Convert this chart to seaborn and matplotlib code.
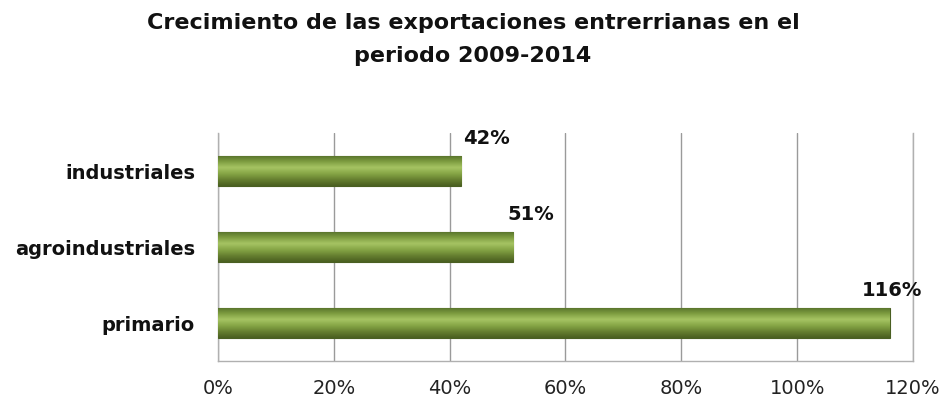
import matplotlib
matplotlib.use("Agg")
import matplotlib.pyplot as plt
import seaborn as sns
import numpy as np
import pandas as pd
from matplotlib.colors import LinearSegmentedColormap
from matplotlib.transforms import offset_copy

categories = ["industriales", "agroindustriales", "primario"]
values = [42, 51, 116]
labels = ["42%", "51%", "116%"]
xticks = [0, 20, 40, 60, 80, 100, 120]
xticklabels = ["0%", "20%", "40%", "60%", "80%", "100%", "120%"]
title = "Crecimiento de las exportaciones entrerrianas en el\nperiodo 2009-2014"

# label nudges (points) relative to bar end, as placed in the original chart
label_dx = [1, -4, -20]

sns.set_theme(style="white")
plt.rcParams['font.family'] = ['DejaVu Sans']

df = pd.DataFrame({"cat": categories, "val": values})

fig = plt.figure(figsize=(9.46, 4.07), dpi=100)
ax = fig.add_axes([0.2304, 0.113, 0.7347, 0.56])

sns.barplot(data=df, x="val", y="cat", ax=ax, color="#7a9a3a", width=0.4,
            edgecolor="#4a5f22", linewidth=0.8, zorder=3)

ax.set_xlim(0, 120)
ax.set_xticks(xticks)
ax.set_xticklabels(xticklabels, fontsize=14, color="#222222")
ax.set_xlabel("")
ax.set_ylabel("")
ax.tick_params(axis="y", labelsize=14, pad=16.5, length=0)
ax.tick_params(axis="x", pad=13, length=0)
for t in ax.get_yticklabels():
    t.set_fontweight("bold")
    t.set_color("#111111")

ax.grid(axis="x", color="#9a9a9a", linewidth=1.0, zorder=0)
ax.set_axisbelow(True)
for s in ["left", "right", "bottom"]:
    ax.spines[s].set_visible(True)
    ax.spines[s].set_color("#b0b0b0")
    ax.spines[s].set_linewidth(1.0)
ax.spines["top"].set_visible(False)

# gradient fill for bars
cmap = LinearSegmentedColormap.from_list("g", ["#55702a", "#7d9c40", "#a6c463", "#86a646", "#667f30", "#4a5f20"])
grad = np.linspace(0, 1, 64).reshape(-1, 1)
ylim = ax.get_ylim()
for p in ax.patches:
    x0, y0 = p.get_x(), p.get_y()
    w, h = p.get_width(), p.get_height()
    im = ax.imshow(grad, cmap=cmap, aspect="auto", extent=[x0, x0 + w, y0 + h, y0],
                   zorder=3.5, interpolation="bicubic")
    im.set_clip_path(p)
ax.set_ylim(ylim)
ax.set_xlim(0, 120)

for p, lab, dx in zip(ax.patches, labels, label_dx):
    x_end = p.get_x() + p.get_width()
    yc = p.get_y()
    tr = offset_copy(ax.transData, fig=fig, x=dx, y=0, units="points")
    ax.text(x_end, yc - 0.1, lab, ha="left", va="bottom", fontsize=14,
            fontweight="bold", color="#111111", zorder=5, transform=tr)

fig.suptitle(title, fontsize=16, fontweight="bold", color="#111111", y=0.968, linespacing=1.8)

fig.savefig("out.png", dpi=100)
